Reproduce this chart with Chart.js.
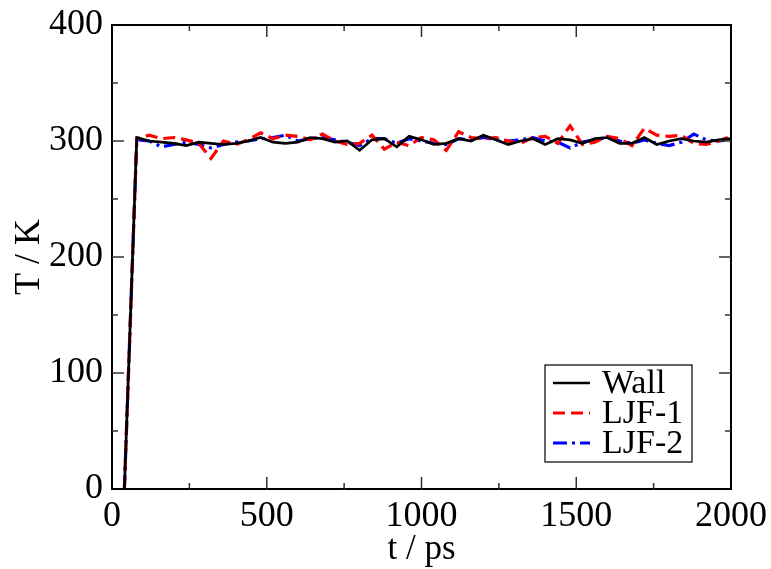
<!DOCTYPE html>
<html>
<head>
<meta charset="utf-8">
<script src="https://cdn.jsdelivr.net/npm/chart.js@4.4.1/dist/chart.umd.min.js"></script>
<style>
html,body{margin:0;padding:0;background:#fff;}
#wrap{width:771px;height:569px;}
</style>
</head>
<body>
<div id="wrap"><canvas id="c" width="771" height="569"></canvas></div>
<script>
const times = [40,80,120,160,200,240,280,320,360,400,440,480,520,560,600,640,680,720,760,800,840,880,920,960,1000,1040,1080,1120,1160,1200,1240,1280,1320,1360,1400,1440,1480,1520,1560,1600,1640,1680,1720,1760,1800,1840,1880,1920,1960,2000];
const wall = [0,303,300,299,298,296,299,298,297,298,300,303,299,298,299,303,302,299,300,292,301,302,295,304,301,297,298,302,300,305,301,297,300,302,297,302,301,298,302,303,298,298,303,297,300,302,300,299,301,302];
const ljf1 = [0,302,305,302,303,301,298,285,300,297,301,307,302,305,304,301,306,300,297,298,305,293,299,296,303,301,292,308,303,302,303,300,298,303,304,298,313,297,299,304,302,296,311,305,304,305,298,297,300,304];
const ljf2 = [0,301,300,295,297,299,297,294,297,299,300,302,303,305,300,302,303,301,299,296,302,302,298,302,300,298,297,302,301,303,301,300,301,303,300,299,294,299,301,303,300,298,301,298,296,299,306,301,300,301];
const seriesNames = ["Wall","LJF-1","LJF-2"];
const xTicks = [0,500,1000,1500,2000];
const yTicks = [0,100,200,300,400];

const FONT = "'Liberation Serif', 'Times New Roman', serif";
function pts(arr){ return arr.map((v,i)=>({x:times[i], y:v})); }

const frame = {
  id:'frame',
  afterDatasetsDraw(chart){
    const ctx = chart.ctx, a = chart.chartArea;
    const xs = chart.scales.x, ys = chart.scales.y;
    ctx.save();
    ctx.strokeStyle = '#000';
    ctx.lineWidth = 2;
    ctx.strokeRect(a.left, a.top, a.right-a.left, a.bottom-a.top);
    ctx.lineWidth = 1.5;
    ctx.strokeStyle = '#333';
    for(let v=250; v<2000; v+=250){
      const p = xs.getPixelForValue(v);
      const L = (v%500===0)?12:6;
      ctx.beginPath();
      ctx.moveTo(p,a.bottom); ctx.lineTo(p,a.bottom-L);
      ctx.moveTo(p,a.top); ctx.lineTo(p,a.top+L);
      ctx.stroke();
    }
    for(let v=50; v<400; v+=50){
      const p = ys.getPixelForValue(v);
      const L = (v%100===0)?12:6;
      ctx.beginPath();
      ctx.moveTo(a.left,p); ctx.lineTo(a.left+L,p);
      ctx.moveTo(a.right,p); ctx.lineTo(a.right-L,p);
      ctx.stroke();
    }
    // legend
    const bx = a.right-186, by = a.bottom-124, bw = 147, bh = 97;
    ctx.fillStyle = '#fff';
    ctx.fillRect(bx,by,bw,bh);
    ctx.lineWidth = 1.2;
    ctx.strokeStyle = '#000';
    ctx.strokeRect(bx,by,bw,bh);
    ctx.font = "34px " + FONT;
    ctx.textBaseline = 'middle';
    ctx.textAlign = 'left';
    chart.data.datasets.forEach((ds,i)=>{
      const yy = by + 18 + i*30;
      ctx.beginPath();
      ctx.setLineDash(ds.borderDash||[]);
      ctx.lineWidth = ds.borderWidth;
      ctx.strokeStyle = ds.borderColor;
      ctx.moveTo(bx+8,yy); ctx.lineTo(bx+45,yy);
      ctx.stroke();
      ctx.setLineDash([]);
      ctx.fillStyle = '#000';
      ctx.fillText(ds.label, bx+57, yy+1);
    });
    ctx.restore();
  }
};

new Chart(document.getElementById('c'), {
  type:'line',
  data:{
    datasets:[
      {label:seriesNames[0], data:pts(wall), borderColor:'#000', borderWidth:2.7, pointRadius:0, tension:0, fill:false},
      {label:seriesNames[1], data:pts(ljf1), borderColor:'#ff0000', borderWidth:3.2, borderDash:[12,6], pointRadius:0, tension:0, fill:false},
      {label:seriesNames[2], data:pts(ljf2), borderColor:'#0000ff', borderWidth:3.2, borderDash:[14,5,3,5], pointRadius:0, tension:0, fill:false}
    ]
  },
  options:{
    responsive:false,
    animation:false,
    devicePixelRatio:1,
    layout:{padding:{top:25,right:40,left:0,bottom:0}},
    plugins:{legend:{display:false}, tooltip:{enabled:false}},
    scales:{
      x:{
        type:'linear', min:0, max:2000,
        afterBuildTicks(s){ s.ticks = xTicks.map(v=>({value:v})); },
        afterFit(s){ s.height = 80; s.paddingLeft = 0; s.paddingRight = 0; },
        grid:{display:false, drawTicks:false},
        border:{display:false},
        ticks:{font:{family:FONT,size:36}, color:'#000', padding:6, maxRotation:0, callback:(v)=>String(v)},
        title:{display:true, text:'t / ps', font:{family:FONT,size:35}, color:'#000', padding:{top:0,bottom:-2}}
      },
      y:{
        min:0, max:400,
        afterBuildTicks(s){ s.ticks = yTicks.map(v=>({value:v})); },
        afterFit(s){ s.width = 112; s.paddingTop = 0; s.paddingBottom = 0; },
        grid:{display:false, drawTicks:false},
        border:{display:false},
        ticks:{font:{family:FONT,size:36}, color:'#000', padding:9, callback:(v)=>String(v)},
        title:{display:true, text:'T / K', font:{family:FONT,size:36}, color:'#000', padding:{top:8,bottom:0}}
      }
    }
  },
  plugins:[frame]
});
</script>
</body>
</html>
